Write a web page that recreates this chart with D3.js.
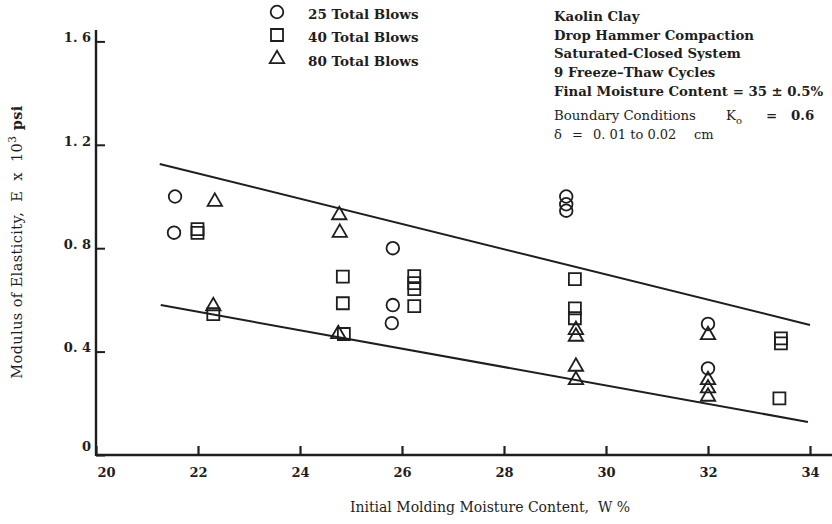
<!DOCTYPE html>
<html>
<head>
<meta charset="utf-8">
<script src="https://cdn.jsdelivr.net/npm/d3@7"></script>
<style>
  html, body { margin: 0; padding: 0; background: #fff; }
  svg { display: block; }
  text { fill: #1e1e1e; font-family: "DejaVu Serif", serif; white-space: pre; }
</style>
</head>
<body>
<svg id="chart" width="832" height="524"></svg>
<script>
// Initial molding moisture content (%) and modulus (x 10^3 psi), one list per blow count
const blows25 = [
  [21.55, 1.00], [21.53, 0.86],
  [25.82, 0.80], [25.82, 0.58], [25.80, 0.51],
  [29.22, 1.00], [29.22, 0.97], [29.22, 0.945],
  [32.00, 0.507], [32.00, 0.335]
];
const blows40 = [
  [21.99, 0.874], [21.99, 0.859], [22.30, 0.545],
  [24.84, 0.69], [24.84, 0.587], [24.86, 0.468],
  [26.24, 0.692], [26.24, 0.665], [26.24, 0.642], [26.24, 0.576],
  [29.39, 0.68], [29.39, 0.567], [29.39, 0.529],
  [33.43, 0.451], [33.43, 0.432], [33.40, 0.219]
];
const blows80 = [
  [22.33, 0.98], [22.30, 0.576],
  [24.77, 0.928], [24.78, 0.86], [24.75, 0.468],
  [29.41, 0.484], [29.41, 0.458], [29.41, 0.342], [29.41, 0.29],
  [32.00, 0.464], [32.00, 0.29], [32.00, 0.258], [32.00, 0.226]
];
// Envelope lines bounding the data
const upperBound = [[21.25, 1.126], [34.0, 0.503]];
const lowerBound = [[21.27, 0.58], [33.96, 0.128]];

const xTicks = [20, 22, 24, 26, 28, 30, 32, 34];
const yTicks = [0, 0.4, 0.8, 1.2, 1.6];
const legendLabels = ["25 Total Blows", "40 Total Blows", "80 Total Blows"];
const noteLines = [
  "Kaolin Clay",
  "Drop Hammer Compaction",
  "Saturated-Closed System",
  "9 Freeze\u2013Thaw Cycles",
  "Final Moisture Content = 35 \u00b1 0.5%"
];

const ink = "#1e1e1e";
const svg = d3.select("#chart");

const x = d3.scaleLinear().domain([20, 34]).range([96, 810]);
const y = d3.scaleLinear().domain([0, 1.6]).range([455, 41.4]);

// Axes: ticks point inward
const xAxis = d3.axisBottom(x).tickValues(xTicks).tickSizeInner(-9).tickSizeOuter(0)
  .tickPadding(13).tickFormat(d3.format("d"));
const gx = svg.append("g").attr("transform", `translate(0,${y(0)})`).call(xAxis);
gx.select(".domain").remove();
gx.selectAll(".tick line").attr("stroke", ink).attr("stroke-width", 2.2);
gx.selectAll(".tick text").attr("font-size", 13).attr("font-weight", "bold").attr("fill", ink)
  .attr("dx", d => d === 20 ? 10 : 0);

const yAxis = d3.axisLeft(y).tickValues(yTicks).tickSizeInner(-9).tickSizeOuter(0)
  .tickPadding(5).tickFormat(d => d === 0 ? "0" : d3.format(".1f")(d).replace(".", ". "));
const gy = svg.append("g").attr("transform", `translate(${x(20)},0)`).call(yAxis);
gy.select(".domain").remove();
gy.selectAll(".tick line").attr("stroke", ink).attr("stroke-width", 2);
gy.selectAll(".tick text").attr("font-size", 13).attr("font-weight", "bold").attr("fill", ink)
  .attr("dy", d => d === 0 ? "-0.35em" : "0.02em");

// Axis lines
svg.append("line").attr("x1", x(20)).attr("x2", 832).attr("y1", y(0)).attr("y2", y(0))
  .attr("stroke", ink).attr("stroke-width", 2.4);
svg.append("line").attr("x1", x(20)).attr("x2", x(20)).attr("y1", 30).attr("y2", y(0) + 1)
  .attr("stroke", ink).attr("stroke-width", 2.4);

// Envelope lines
const line = d3.line().x(d => x(d[0])).y(d => y(d[1]));
[upperBound, lowerBound].forEach(seg => {
  svg.append("path").attr("d", line(seg)).attr("fill", "none")
    .attr("stroke", ink).attr("stroke-width", 2);
});

// Markers
const shapes = [
  d3.symbol().type(d3.symbolCircle).size(Math.PI * 6.3 * 6.3),
  d3.symbol().type(d3.symbolSquare).size(12 * 12),
  d3.symbol().type(d3.symbolTriangle).size(90)
];
[blows25, blows40, blows80].forEach((series, i) => {
  svg.append("g").selectAll("path").data(series).join("path")
    .attr("d", shapes[i])
    .attr("transform", d => `translate(${x(d[0])},${y(d[1])})`)
    .attr("fill", "none").attr("stroke", ink).attr("stroke-width", 1.8);
});

// Legend
const legendY = [12, 35, 59];
legendLabels.forEach((label, i) => {
  svg.append("path").attr("d", shapes[i]())
    .attr("transform", `translate(277,${legendY[i]})`)
    .attr("fill", "none").attr("stroke", ink).attr("stroke-width", 1.8);
  svg.append("text").attr("x", 308).attr("y", legendY[i] + 3)
    .attr("dominant-baseline", "middle")
    .attr("font-size", 13.5).attr("font-weight", "bold").text(label);
});

// Test conditions
const noteY = [16, 35, 53, 72, 91];
noteLines.forEach((t, i) => {
  svg.append("text").attr("x", 554).attr("y", noteY[i] + 4.5)
    .attr("font-size", 13.3).attr("font-weight", "bold").text(t);
});
const kLine = svg.append("text").attr("y", 119.5).attr("font-size", 13.3);
kLine.append("tspan").attr("x", 554).text("Boundary Conditions");
kLine.append("tspan").attr("x", 726).text("K");
kLine.append("tspan").attr("font-size", 10).attr("dy", 4).text("o");
kLine.append("tspan").attr("x", 766).attr("dy", -4).attr("font-weight", "bold").text("=");
kLine.append("tspan").attr("x", 791).attr("font-weight", "bold").text("0.6");
const dLine = svg.append("text").attr("y", 138.5).attr("font-size", 13);
dLine.append("tspan").attr("x", 554).text("\u03b4");
dLine.append("tspan").attr("x", 572).text("=");
dLine.append("tspan").attr("x", 593).text("0. 01 to 0.02");
dLine.append("tspan").attr("x", 694).text("cm");

// Axis titles
svg.append("text").attr("x", 490).attr("y", 512).attr("text-anchor", "middle")
  .attr("font-size", 14).text("Initial Molding Moisture Content,  W %");
const yt = svg.append("text").attr("transform", "translate(22,242) rotate(-90)")
  .attr("text-anchor", "middle").attr("font-size", 14.5).attr("letter-spacing", 0.4);
yt.append("tspan").text("Modulus of Elasticity,  E  x  10");
yt.append("tspan").attr("font-size", 10.5).attr("dy", -6).text("3");
yt.append("tspan").attr("dy", 6).attr("font-weight", "bold").text(" psi");
</script>
</body>
</html>
